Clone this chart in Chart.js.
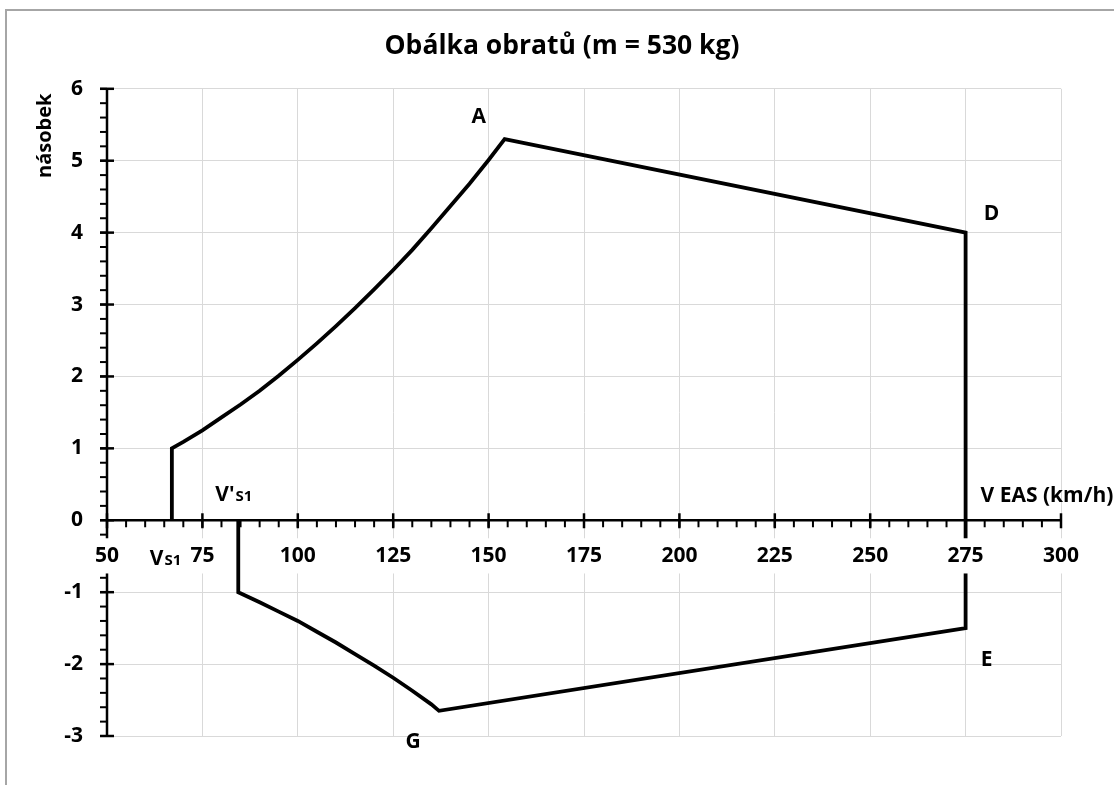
<!DOCTYPE html>
<html>
<head>
<meta charset="utf-8">
<title>Obálka obratů</title>
<script src="https://cdn.jsdelivr.net/npm/chart.js@4"></script>
<style>
  html, body { margin: 0; padding: 0; background: #fff; }
  #c { display: block; }
</style>
</head>
<body>
<canvas id="c" width="1114" height="785"></canvas>
<script>
// Flight envelope outline, traced in order: V (km/h EAS) and load factor n
const speeds = [67, 67, 70, 75, 80, 85, 90, 95, 100, 105, 110, 115, 120, 125, 130, 135, 140, 145, 150, 154.2,
                275, 275, 137,
                135, 130, 125, 120, 115, 110, 105, 100, 95, 90, 84.4, 84.4];
const loadFactors = [0, 1, 1.09, 1.25, 1.43, 1.61, 1.80, 2.01, 2.23, 2.46, 2.70, 2.95, 3.21, 3.48, 3.76, 4.06, 4.37, 4.68, 5.01, 5.3,
                     4.0, -1.5, -2.65,
                     -2.56, -2.37, -2.19, -2.02, -1.86, -1.70, -1.55, -1.40, -1.27, -1.14, -1.0, 0];

// Corner points of the envelope (index into the arrays above)
const cornerNames = ['A', 'D', 'E', 'G'];
const cornerIndex = [19, 20, 21, 22];

// Stall speeds marked on the speed axis
const stallMain = ['V', 'V\''];
const stallSub = ['S1', 'S1'];
const stallIndex = [0, 34];

// Axes
const xRange = [50, 300];
const xStep = 25;
const xMinorStep = 5;
const yRange = [-3, 6];
const yStep = 1;
const yMinorStep = 0.2;

const titleText = 'Obálka obratů (m = 530 kg)';
const xAxisTitle = 'V EAS (km/h)';
const yAxisTitle = 'násobek';

const FONT = '"Open Sans", "DejaVu Sans", sans-serif';
const GRID = '#d9d9d9';

const points = speeds.map((v, i) => ({ x: v, y: loadFactors[i] }));

// Background, outer frame, axis lines and tick marks
const axesPlugin = {
  id: 'axesPlugin',
  beforeDraw(chart) {
    const ctx = chart.ctx;
    ctx.save();
    ctx.fillStyle = '#fff';
    ctx.fillRect(0, 0, chart.width, chart.height);
    ctx.strokeStyle = '#a6a6a6';
    ctx.lineWidth = 2;
    ctx.strokeRect(6, 10, chart.width + 20, chart.height + 20);
    ctx.restore();
  },
  beforeDatasetsDraw(chart) {
    const { ctx } = chart;
    const xs = chart.scales.x, ys = chart.scales.y;
    const axisY = ys.getPixelForValue(0);
    const axisX = xs.getPixelForValue(xRange[0]);
    const seg = (a, b, c, d) => { ctx.beginPath(); ctx.moveTo(a, b); ctx.lineTo(c, d); ctx.stroke(); };
    ctx.save();
    ctx.strokeStyle = '#000';
    ctx.lineCap = 'butt';

    // minor ticks
    ctx.lineWidth = 2;
    const nxm = Math.round((xRange[1] - xRange[0]) / xMinorStep);
    for (let i = 0; i <= nxm; i++) {
      const px = xs.getPixelForValue(xRange[0] + i * xMinorStep);
      seg(px, axisY, px, axisY + 7);
    }
    const nym = Math.round((yRange[1] - yRange[0]) / yMinorStep);
    for (let i = 0; i <= nym; i++) {
      const py = ys.getPixelForValue(yRange[0] + i * yMinorStep);
      seg(axisX - 7, py, axisX, py);
    }

    // major ticks, crossing the axis
    ctx.lineWidth = 2.5;
    const nx = Math.round((xRange[1] - xRange[0]) / xStep);
    for (let i = 0; i <= nx; i++) {
      const px = xs.getPixelForValue(xRange[0] + i * xStep);
      seg(px, axisY - 7, px, axisY + 8);
    }
    const ny = Math.round((yRange[1] - yRange[0]) / yStep);
    for (let i = 0; i <= ny; i++) {
      const py = ys.getPixelForValue(yRange[0] + i * yStep);
      seg(axisX - 7, py, axisX + 7, py);
    }

    // axis lines
    ctx.lineWidth = 2.5;
    seg(xs.left, axisY, xs.right, axisY);
    seg(axisX, ys.top, axisX, ys.bottom);
    ctx.restore();
  }
};

// Point names, stall speed marks and axis titles
const labelsPlugin = {
  id: 'labelsPlugin',
  afterDatasetsDraw(chart) {
    const { ctx } = chart;
    const xs = chart.scales.x, ys = chart.scales.y;
    const px = i => xs.getPixelForValue(speeds[i]);
    const py = i => ys.getPixelForValue(loadFactors[i]);
    ctx.save();
    ctx.fillStyle = '#000';

    // corner names
    const offsets = [[-26, -22], [26, -19], [21, 32], [-26, 31]];
    ctx.font = 'bold 21px ' + FONT;
    ctx.textAlign = 'center';
    ctx.textBaseline = 'middle';
    cornerNames.forEach((name, k) => {
      const i = cornerIndex[k];
      ctx.fillText(name, px(i) + offsets[k][0], py(i) + offsets[k][1]);
    });

    // stall speeds with subscripts
    const stallOffsets = [[-22, 45], [-23, -19]];
    ctx.textAlign = 'left';
    ctx.textBaseline = 'alphabetic';
    stallIndex.forEach((i, k) => {
      const x0 = px(i) + stallOffsets[k][0];
      const y0 = ys.getPixelForValue(0) + stallOffsets[k][1];
      ctx.font = 'bold 21px ' + FONT;
      ctx.fillText(stallMain[k], x0, y0);
      const w = ctx.measureText(stallMain[k]).width;
      ctx.font = 'bold 15px ' + FONT;
      ctx.fillText(stallSub[k], x0 + w + 1, y0);
    });

    // speed axis title
    ctx.font = 'bold 21px ' + FONT;
    ctx.textBaseline = 'middle';
    ctx.fillText(xAxisTitle, xs.getPixelForValue(275) + 15, ys.getPixelForValue(0) - 24);

    // load factor axis title
    ctx.font = 'bold 20px ' + FONT;
    ctx.translate(45, ys.top + 47);
    ctx.rotate(-Math.PI / 2);
    ctx.textAlign = 'center';
    ctx.fillText(yAxisTitle, 0, 0);
    ctx.restore();
  }
};

new Chart(document.getElementById('c'), {
  type: 'line',
  data: {
    datasets: [{
      data: points,
      borderColor: '#000',
      borderWidth: 3.8,
      borderJoinStyle: 'miter',
      pointRadius: 0,
      pointHoverRadius: 0,
      tension: 0,
      fill: false,
      clip: false
    }]
  },
  options: {
    responsive: false,
    devicePixelRatio: 1,
    animation: false,
    events: [],
    layout: { padding: { left: 63, right: 53, top: 0, bottom: 49 } },
    plugins: {
      legend: { display: false },
      tooltip: { enabled: false },
      title: {
        display: true,
        text: titleText,
        color: '#000',
        font: { family: FONT, size: 26.5, weight: 'bold' },
        padding: { top: 31, bottom: 26 }
      }
    },
    scales: {
      x: {
        type: 'linear',
        min: xRange[0],
        max: xRange[1],
        position: { y: 0 },
        border: { display: false },
        grid: { color: GRID, lineWidth: 1, drawTicks: true, tickLength: 8, tickColor: 'rgba(0,0,0,0)', z: -1 },
        ticks: {
          z: 1,
          stepSize: xStep,
          autoSkip: false,
          maxRotation: 0,
          padding: 15,
          color: '#000',
          showLabelBackdrop: true,
          backdropColor: '#fff',
          backdropPadding: { top: 5, bottom: 5, left: 2, right: 2 },
          font: { family: FONT, size: 21, weight: 'bold' }
        }
      },
      y: {
        type: 'linear',
        min: yRange[0],
        max: yRange[1],
        position: 'left',
        border: { display: false },
        afterFit(scale) { scale.width = 44; },
        grid: { color: GRID, lineWidth: 1, drawTicks: false },
        ticks: {
          stepSize: yStep,
          autoSkip: false,
          padding: 24,
          color: '#000',
          font: { family: FONT, size: 21, weight: 'bold' }
        }
      }
    }
  },
  plugins: [axesPlugin, labelsPlugin]
});
</script>
</body>
</html>
